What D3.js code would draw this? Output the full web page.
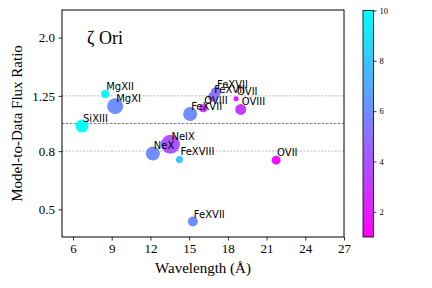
<!DOCTYPE html>
<html lang="en">
    <head>
        <meta charset="utf-8">
        <title>zeta Ori flux ratios</title>
        <script src="https://d3js.org/d3.v7.min.js"></script>
        <style type="text/css">
            body{
                margin: 0;
                background: white;
            }
            .ticks text{
                font-family: "Liberation Serif", "Times New Roman", serif;
                font-size: 13px;
                fill: #000;
            }
            .cbar text{
                font-family: "Liberation Serif", "Times New Roman", serif;
                font-size: 8.5px;
                fill: #000;
            }
            .labels{
                font-family: "DejaVu Sans", sans-serif;
                font-size: 10px;
                fill: #000;
            }
            .title{
                font-family: "Liberation Serif", "Times New Roman", serif;
                font-size: 15px;
            }
        </style>
    </head>
    <body>
        <script type="text/javascript">

            //data
            const ions = ["SiXIII", "MgXII", "MgXI", "NeX", "NeIX", "FeXVIII", "FeXVII", "FeXVII",
                          "OVIII", "FeXVII", "FeXVII", "OVII", "OVIII", "OVII"];
            const wavelengths = [6.70, 8.50, 9.27, 12.19, 13.55, 14.25, 15.08, 15.29,
                                 16.10, 16.86, 17.08, 18.64, 19.00, 21.74];
            const ratios = [0.98, 1.27, 1.15, 0.785, 0.845, 0.748, 1.08, 0.453,
                            1.13, 1.24, 1.29, 1.22, 1.12, 0.744];
            const colorValues = [10, 9.5, 6, 6, 4, 8, 6, 6, 3, 5, 5, 1.5, 3, 1.5];
            const sizes = [169, 64, 256, 196, 361, 49, 196, 100, 64, 100, 100, 25, 121, 81];

            const xTicks = [6, 9, 12, 15, 18, 21, 24, 27];
            const yTicks = [0.5, 0.8, 1.25, 2.0];
            const yTickLabels = ["0.5", "0.8", "1.25", "2.0"];
            const cbarTicks = [2, 4, 6, 8, 10];

            const data = ions.map((ion, i) => ({
                ion: ion,
                wl: wavelengths[i],
                ratio: ratios[i],
                c: colorValues[i],
                s: sizes[i]
            }));

            //declare consts
            const w = 432;
            const h = 288;
            const pLeft = 62, pRight = 344, pTop = 10, pBottom = 237;

            const x = d3.scaleLinear().domain([5.15, 27]).range([pLeft, pRight]);
            const y = d3.scaleLog().domain([0.4, 2.5]).range([pBottom, pTop]);
            const r = d3.scaleSqrt().domain([0, 400]).range([0, 10]);

            //cool colormap reversed: 1 -> magenta, 10 -> cyan
            const color = d3.scaleLinear().domain([1, 10]).range(["#ff00ff", "#00ffff"]);

            const svg = d3.select("body")
                    .append("svg")
                    .attr("width", w)
                    .attr("height", h);

            svg.append("rect").attr("width", w).attr("height", h).attr("fill", "white");

            //reference lines
            svg.selectAll("line.grid")
                .data([1.25, 0.8])
                .enter()
                .append("line")
                .attr("class", "grid")
                .attr("x1", pLeft).attr("x2", pRight)
                .attr("y1", d => y(d)).attr("y2", d => y(d))
                .attr("stroke", "#aaa")
                .attr("stroke-width", 0.8)
                .attr("stroke-dasharray", "2,1.5");

            svg.append("line")
                .attr("x1", pLeft).attr("x2", pRight)
                .attr("y1", y(1)).attr("y2", y(1))
                .attr("stroke", "#555")
                .attr("stroke-width", 0.8)
                .attr("stroke-dasharray", "2.5,1.5");

            //points
            svg.selectAll("circle.pt")
                .data(data)
                .enter()
                .append("circle")
                .attr("class", "pt")
                .attr("cx", d => x(d.wl))
                .attr("cy", d => y(d.ratio))
                .attr("r", d => r(d.s))
                .attr("fill", d => color(d.c));

            //labels
            svg.selectAll("text.labels")
                .data(data)
                .enter()
                .append("text")
                .attr("class", "labels")
                .attr("x", d => x(d.wl) + 1)
                .attr("y", d => y(d.ratio) - 4)
                .text(d => d.ion);

            //axes
            const xAxis = d3.axisBottom(x).tickValues(xTicks).tickSize(3.5).tickPadding(3.5);
            svg.append("g")
                .attr("class", "ticks")
                .attr("transform", "translate(0," + pBottom + ")")
                .call(xAxis)
                .call(g => g.select(".domain").remove());

            const yAxis = d3.axisLeft(y).tickValues(yTicks).tickSize(3.5).tickPadding(3.5)
                .tickFormat((d, i) => yTickLabels[i]);
            svg.append("g")
                .attr("class", "ticks")
                .attr("transform", "translate(" + pLeft + ",0)")
                .call(yAxis)
                .call(g => g.select(".domain").remove());

            svg.selectAll(".ticks .tick line").attr("stroke", "#000").attr("stroke-width", 0.8);

            //frame
            svg.append("rect")
                .attr("x", pLeft).attr("y", pTop)
                .attr("width", pRight - pLeft).attr("height", pBottom - pTop)
                .attr("fill", "none")
                .attr("stroke", "#000")
                .attr("stroke-width", 1);

            //axis titles
            svg.append("text")
                .attr("class", "title")
                .attr("x", (pLeft + pRight) / 2)
                .attr("y", 273)
                .attr("text-anchor", "middle")
                .text("Wavelength (Å)");

            svg.append("text")
                .attr("class", "title")
                .attr("transform", "translate(22," + (pTop + pBottom) / 2 + ") rotate(-90)")
                .attr("text-anchor", "middle")
                .text("Model-to-Data Flux Ratio");

            svg.append("text")
                .attr("x", 87)
                .attr("y", 44)
                .attr("font-family", "'Liberation Serif', 'Times New Roman', serif")
                .attr("font-size", "18px")
                .text("ζ Ori");

            //colorbar
            const cbX = 363, cbW = 10.5;
            const cy = d3.scaleLinear().domain([1, 10]).range([pBottom, 10.5]);

            const grad = svg.append("defs").append("linearGradient")
                .attr("id", "cbgrad")
                .attr("x1", 0).attr("y1", 1).attr("x2", 0).attr("y2", 0);
            grad.append("stop").attr("offset", "0%").attr("stop-color", color(1));
            grad.append("stop").attr("offset", "100%").attr("stop-color", color(10));

            svg.append("rect")
                .attr("x", cbX).attr("y", cy(10))
                .attr("width", cbW).attr("height", cy(1) - cy(10))
                .attr("fill", "url(#cbgrad)")
                .attr("stroke", "#000")
                .attr("stroke-width", 0.8);

            const cAxis = d3.axisRight(cy).tickValues(cbarTicks).tickSize(3).tickPadding(3)
                .tickFormat(d3.format("d"));
            svg.append("g")
                .attr("class", "cbar")
                .attr("transform", "translate(" + (cbX + cbW) + ",0)")
                .call(cAxis)
                .call(g => g.select(".domain").remove())
                .call(g => g.selectAll(".tick line").attr("stroke-width", 0.8));

        </script>
    </body>
</html>
